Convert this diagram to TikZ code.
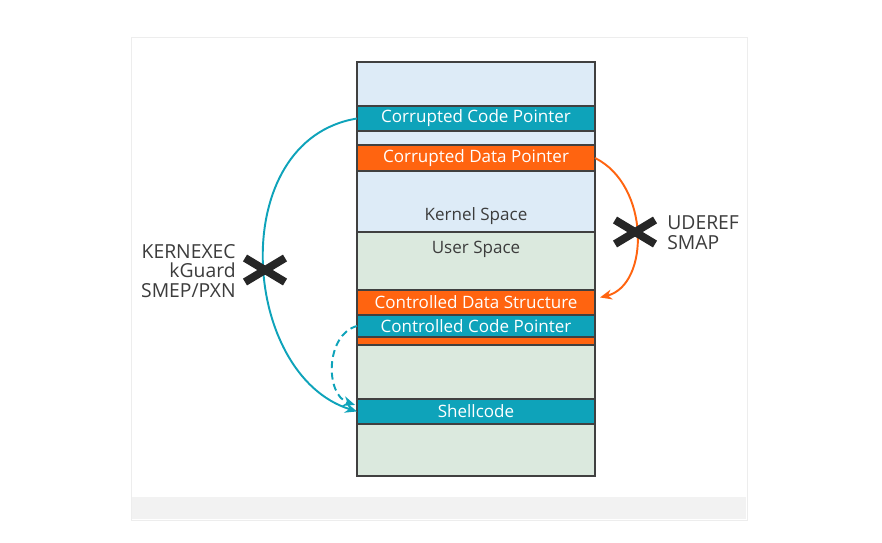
\documentclass[tikz,border=0pt]{standalone}
\usepackage{fontspec}
\setmainfont{Open Sans}
\usetikzlibrary{arrows.meta,positioning,calc}
\definecolor{codeteal}{HTML}{0EA3BA}
\definecolor{dataorange}{HTML}{FF6410}
\definecolor{kernelblue}{HTML}{DDEBF7}
\definecolor{usergreen}{HTML}{DBE9DE}
\definecolor{inkgray}{HTML}{3C3C3C}
\tikzset{
  layer/.style = {draw=black!75, line width=0.8pt, minimum width=4.76cm,
                  inner sep=0pt, outer sep=0pt, anchor=north,
                  font=\fontsize{9.7}{11}\selectfont},
  kern/.style  = {layer, fill=kernelblue, text=inkgray},
  usr/.style   = {layer, fill=usergreen, text=inkgray},
  code/.style  = {layer, fill=codeteal, text=white},
  data/.style  = {layer, fill=dataorange, text=white},
  inlbl/.style = {font=\fontsize{9.7}{11}\selectfont, text=inkgray, inner sep=4pt},
  lbl/.style   = {font=\fontsize{11}{11.2}\selectfont, text=inkgray, inner sep=0pt},
  ar/.style    = {-{Stealth[length=2.4mm,width=2mm]}, line width=1.1pt},
  xmark/.pic   = {\draw[line width=4.5pt, black!85] (-20,-12) -- (20,12) (-20,12) -- (20,-12);}
}

\begin{document}
\begin{tikzpicture}[x=0.02cm, y=-0.02cm]
  \useasboundingbox (0,0) rectangle (882,542);
  % slide frame
  \draw[black!7, fill=white] (131,37) rectangle (747,520);
  \fill[black!5] (132,497) rectangle (746,519);

  % memory column
  \node[kern, minimum height=0.88cm] (ktop) at (476,62) {};
  \node[code, minimum height=0.5cm, below=0pt of ktop]   (corrcode) {Corrupted Code Pointer};
  \node[kern, minimum height=0.28cm, below=0pt of corrcode] (kgap) {};
  \node[data, minimum height=0.52cm, below=0pt of kgap]   (corrdata) {Corrupted Data Pointer};
  \node[kern, minimum height=1.22cm, below=0pt of corrdata,
        label={[inlbl, anchor=south]south:Kernel Space}] (kspace) {};
  \node[usr, minimum height=1.16cm, below=0pt of kspace,
        label={[inlbl, anchor=north, inner sep=5pt]north:User Space}] (uspace) {};
  \node[data, minimum height=0.5cm, below=0pt of uspace]  (ctrldata) {Controlled Data Structure};
  \node[code, minimum height=0.44cm, below=0pt of ctrldata] (ctrlcode) {Controlled Code Pointer};
  \node[data, minimum height=0.16cm, below=0pt of ctrlcode] (ostrip) {};
  \node[usr, minimum height=1.08cm, below=0pt of ostrip]  (ugap) {};
  \node[code, minimum height=0.5cm, below=0pt of ugap]    (shell) {Shellcode};
  \node[usr, minimum height=1.04cm, below=0pt of shell]   (ubot) {};

  % attacks
  \draw[ar, codeteal] (corrcode.west) .. controls (225,140) and (240,375) .. (shell.west);
  \draw[ar, codeteal, dash pattern=on 4pt off 2.5pt]
    (ctrlcode.west) .. controls (325,335) and (325,395) .. ($(shell.north west)+(-2,6)$);
  \draw[ar, dataorange] (corrdata.east) .. controls (650,185) and (650,285) .. ($(ctrldata.east)+(5,-5)$);

  % defences
  \pic at (265,270) {xmark};
  \pic at (635,232) {xmark};
  \node[lbl, anchor=east, align=right] (codedef) at (236,271) {KERNEXEC\\kGuard\\SMEP/PXN};
  \node[lbl, anchor=west, align=left]  (datadef) at (667,233) {UDEREF\\SMAP};
\end{tikzpicture}
\end{document}
